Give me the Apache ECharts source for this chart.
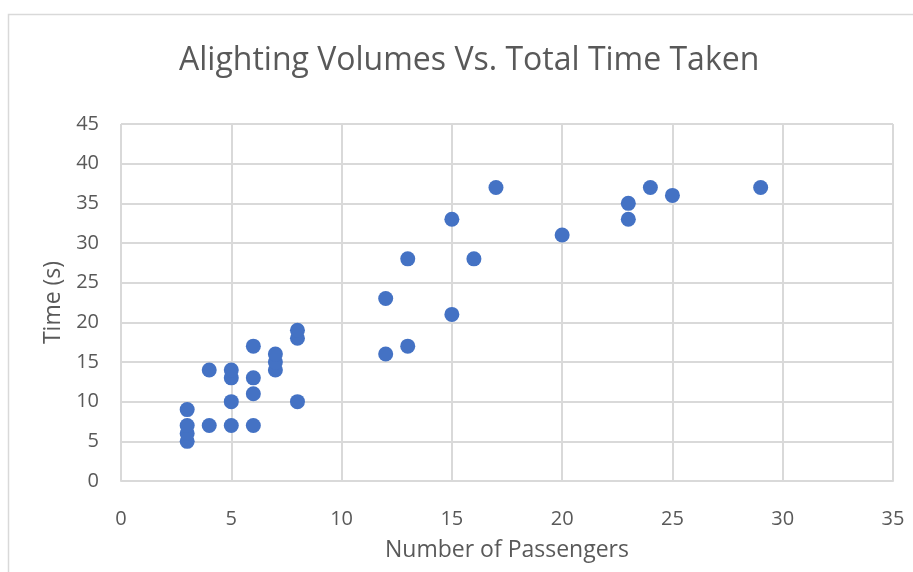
<!DOCTYPE html>
<html>
<head>
<meta charset="utf-8">
<script src="https://cdn.jsdelivr.net/npm/echarts@6/dist/echarts.min.js"></script>
<style>
  html, body { margin: 0; padding: 0; background: #ffffff; }
  #chart { width: 913px; height: 572px; }
</style>
</head>
<body>
<div id="chart"></div>
<script>
// Passengers alighting at each stop and the total time the stop took
const passengers = [3, 3, 3, 3, 4, 4, 5, 5, 5, 5, 6, 6, 6, 6, 7, 7, 7, 8, 8, 8,
                    12, 12, 13, 13, 15, 15, 16, 17, 20, 23, 23, 24, 25, 29];
const timeTaken  = [5, 6, 7, 9, 7, 14, 7, 10, 13, 14, 7, 11, 13, 17, 14, 15, 16, 10, 18, 19,
                    16, 23, 17, 28, 21, 33, 28, 37, 31, 33, 35, 37, 36, 37];

const chartTitle = 'Alighting Volumes Vs. Total Time Taken';
const xAxisTitle = 'Number of Passengers';
const yAxisTitle = 'Time (s)';

const points = passengers.map((p, i) => [p, timeTaken[i]]);

const textColor = '#595959';
const gridColor = '#d9d9d9';
const font = 'Open Sans';

const chart = echarts.init(document.getElementById('chart'), null, { renderer: 'canvas' });
chart.setOption({
  animation: false,
  backgroundColor: '#ffffff',
  graphic: [{
    type: 'rect',
    shape: { x: 8.5, y: 14.5, width: 920, height: 580 },
    style: { fill: 'none', stroke: gridColor, lineWidth: 1.5 },
    silent: true,
    z: -1
  }],
  title: {
    text: chartTitle,
    left: 174,
    top: 40,
    textStyle: { fontFamily: font, fontSize: 32, fontWeight: 'normal', color: textColor }
  },
  grid: { left: 121, right: 20, top: 124, bottom: 91, containLabel: false },
  xAxis: {
    type: 'value',
    min: 0, max: 35, interval: 5,
    name: xAxisTitle,
    nameLocation: 'middle',
    nameGap: 58,
    nameTextStyle: { fontFamily: font, fontSize: 23, color: textColor },
    axisLine: { show: true, lineStyle: { color: gridColor, width: 2 } },
    axisTick: { show: false },
    axisLabel: { fontFamily: font, fontSize: 20, color: textColor, margin: 28 },
    splitLine: { show: true, lineStyle: { color: gridColor, width: 2 } }
  },
  yAxis: {
    type: 'value',
    min: 0, max: 45, interval: 5,
    name: yAxisTitle,
    nameLocation: 'middle',
    nameGap: 56,
    nameRotate: 90,
    nameTextStyle: { fontFamily: font, fontSize: 23, color: textColor },
    axisLine: { show: false },
    axisTick: { show: false },
    axisLabel: { fontFamily: font, fontSize: 20, color: textColor, margin: 22 },
    splitLine: { show: true, lineStyle: { color: gridColor, width: 2 } }
  },
  series: [{
    type: 'scatter',
    data: points,
    symbol: 'circle',
    symbolSize: 15,
    itemStyle: { color: '#4472C4', opacity: 1 }
  }]
});
</script>
</body>
</html>
